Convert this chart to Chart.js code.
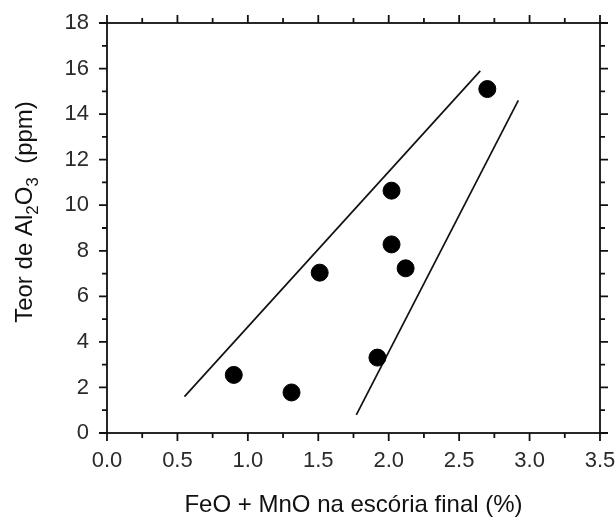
<!DOCTYPE html>
<html>
<head>
<meta charset="utf-8">
<script src="https://cdn.jsdelivr.net/npm/chart.js@4"></script>
<style>
  html, body { margin: 0; padding: 0; background: #fff; }
  #wrap { width: 616px; height: 527px; }
</style>
</head>
<body>
<div id="wrap"><canvas id="chart-slag"></canvas></div>
<script>
// measured points
let feoMno = [0.9, 1.31, 1.51, 1.92, 2.02, 2.02, 2.12, 2.7];
let al2o3 = [2.55, 1.78, 7.04, 3.31, 10.64, 8.28, 7.23, 15.1];

// band limits (drawn lines)
let upperX = [0.55, 2.65];
let upperY = [1.6, 15.9];
let lowerX = [1.77, 2.92];
let lowerY = [0.8, 14.6];

let xTitle = 'FeO + MnO na escória final (%)';
// y title pieces: [text, isSubscript]
let yTitleParts = [['Teor de Al', false], ['2', true], ['O', false], ['3', true], ['  (ppm)', false]];

let toXY = (xs, ys) => xs.map((x, i) => ({x: x, y: ys[i]}));

let family = "'Liberation Sans', Arial, sans-serif";
let tickFont = {family: family, size: 22};
let titleFont = {family: family, size: 24};

// frame + outward tick marks on all four sides
let frameTicks = {
    id: 'frameTicks',
    afterDraw(chart) {
        let c = chart.ctx, a = chart.chartArea;
        let sx = chart.scales.x, sy = chart.scales.y;
        c.save();
        c.strokeStyle = '#111';
        c.lineWidth = 1.8;
        c.strokeRect(a.left, a.top, a.right - a.left, a.bottom - a.top);
        c.beginPath();
        for (let v = 0; v <= 3.5001; v += 0.25) {
            let px = sx.getPixelForValue(v);
            let len = Math.abs(v * 2 - Math.round(v * 2)) < 0.01 ? 8 : 5;
            c.moveTo(px, a.bottom); c.lineTo(px, a.bottom + len);
            c.moveTo(px, a.top); c.lineTo(px, a.top - len);
        }
        for (let v = 0; v <= 18; v += 1) {
            let py = sy.getPixelForValue(v);
            let len = v % 2 === 0 ? 8 : 5;
            c.moveTo(a.left, py); c.lineTo(a.left - len, py);
            c.moveTo(a.right, py); c.lineTo(a.right + len, py);
        }
        c.stroke();
        c.restore();
    }
};

// rotated y title with real subscripts
let yTitle = {
    id: 'yTitle',
    afterDraw(chart) {
        let c = chart.ctx;
        let big = titleFont.size + 'px ' + family;
        let small = '17px ' + family;
        c.save();
        let widths = yTitleParts.map(p => { c.font = p[1] ? small : big; return c.measureText(p[0]).width; });
        let total = widths.reduce((s, w) => s + w, 0);
        c.translate(32, 212);
        c.rotate(-Math.PI / 2);
        c.fillStyle = '#111';
        c.textBaseline = 'alphabetic';
        let x = -total / 2;
        yTitleParts.forEach((p, i) => {
            c.font = p[1] ? small : big;
            c.fillText(p[0], x, p[1] ? 6 : 0);
            x += widths[i];
        });
        c.restore();
    }
};

new Chart(document.getElementById('chart-slag').getContext('2d'), {
    type: 'scatter',
    data: {
        datasets: [{
            data: toXY(feoMno, al2o3),
            backgroundColor: '#000',
            borderColor: '#000',
            pointRadius: 8.5,
            pointHoverRadius: 8.5
        }, {
            type: 'line',
            data: toXY(upperX, upperY),
            borderColor: '#111',
            borderWidth: 1.7,
            pointRadius: 0,
            fill: false
        }, {
            type: 'line',
            data: toXY(lowerX, lowerY),
            borderColor: '#111',
            borderWidth: 1.7,
            pointRadius: 0,
            fill: false
        }]
    },
    options: {
        responsive: true,
        maintainAspectRatio: false,
        animation: false,
        layout: { padding: { top: 23, right: 16, left: 0, bottom: 0 } },
        plugins: { legend: { display: false }, tooltip: { enabled: false } },
        scales: {
            x: {
                type: 'linear',
                min: 0, max: 3.5,
                afterFit: s => { s.height = 94; s.paddingLeft = 0; s.paddingRight = 0; },
                grid: { display: false, drawTicks: false },
                border: { display: false },
                ticks: {
                    stepSize: 0.5, padding: 15, color: '#2a2a2a', font: tickFont,
                    callback: v => v.toFixed(1)
                },
                title: {
                    display: true, text: xTitle, color: '#111',
                    font: titleFont,
                    padding: { top: 0, bottom: 7 }
                }
            },
            y: {
                min: 0, max: 18,
                afterFit: s => { s.width = 107; s.paddingTop = 0; s.paddingBottom = 0; },
                grid: { display: false, drawTicks: false },
                border: { display: false },
                ticks: { stepSize: 2, padding: 18, color: '#2a2a2a', font: tickFont }
            }
        }
    },
    plugins: [frameTicks, yTitle]
});
</script>
</body>
</html>
